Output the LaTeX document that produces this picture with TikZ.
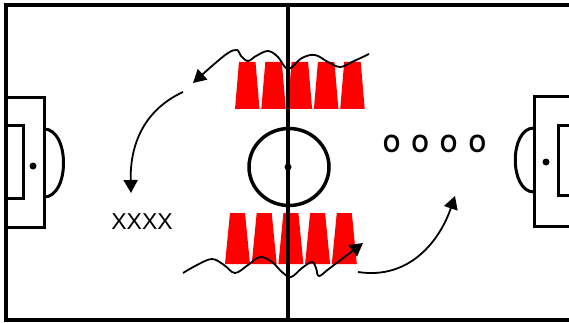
\documentclass[tikz,border=0pt]{standalone}
\usepackage{fontspec}
\setmainfont{Liberation Sans}
\usetikzlibrary{arrows.meta}
\tikzset{
  fieldline/.style={line width=4pt, line join=miter},
  boxline/.style={line width=3pt},
  cone/.style={fill=red, draw=none},
  run/.style={line width=1.8pt, -{Triangle[length=13pt,width=14pt]}},
  grouplabel/.style={font=\fontsize{23}{23}\selectfont, inner sep=0pt},
}
\begin{document}
\begin{tikzpicture}[x=1pt,y=-1pt]
\useasboundingbox (0,0) rectangle (569,323);
\clip (0,0) rectangle (569,323);
\fill[white] (0,0) rectangle (569,323);

% row of cones above the centre circle
\foreach \i in {0,...,4}{
  \pgfmathsetmacro{\xb}{235+26.3*\i}
  \fill[cone] (\xb,109) -- (\xb+24.5,109) -- (\xb+20.5,62) -- (\xb+4,62) -- cycle;
}
% row of cones below the centre circle
\foreach \i in {0,...,4}{
  \pgfmathsetmacro{\xb}{225+26.7*\i}
  \fill[cone] (\xb,264) -- (\xb+25,264) -- (\xb+20,213) -- (\xb+5,213) -- cycle;
}

% pitch outline and halfway line
\draw[fieldline] (6,5) rectangle (590,320);
\draw[fieldline] (288,5) -- (288,320);
% centre circle and spot
\draw[line width=3.5pt] (289,167) ellipse [x radius=40, y radius=38.5];
\fill (288,167) circle (3.5);

% left penalty area
\draw[boxline] (6,98) -- (44,98) -- (44,227) -- (6,227);
\draw[boxline] (6,126) -- (23,126) -- (23,198) -- (6,198);
\draw[boxline] (44,129) .. controls (70,129) and (70,197) .. (44,197);
\fill (33,166) circle (3.5);

% right penalty area
\draw[boxline] (590,97) -- (534,97) -- (534,226) -- (590,226);
\draw[boxline] (590,126) -- (558,126) -- (558,195) -- (590,195);
\draw[boxline] (534,128) .. controls (509,128) and (509,192) .. (534,192);
\fill (546,162) circle (3.5);

% player groups
\node[grouplabel] (xs) at (142,222) {XXXX};
\node[grouplabel, font=\fontsize{25}{25}\selectfont\bfseries] (os) at (434.5,144)
  {\scalebox{0.88}[1]{\spaceskip=13pt O O O O}};

% dribble through the upper cones
\draw[run] plot[smooth, tension=0.6] coordinates {
  (369,54) (352,62) (340,67) (328,62) (315,55) (302,58) (288,69) (278,57)
  (268,51) (256,56) (248,61) (241,56) (237,50) (228,53) (212,66) (193,83)};
% run back towards the X group
\coordinate (ls) at (183,92);
\coordinate (le) at (131,193);
\draw[run] (ls) .. controls (140,112) and (130,150) .. (le);

% dribble through the lower cones
\draw[run] plot[smooth, tension=0.6] coordinates {
  (183,273) (197,265) (212,259) (224,265) (235,273) (248,265) (260,257)
  (272,262) (282,272) (291,277) (302,268) (312,262) (316,268) (319,276)
  (330,268) (363,243)};
% run towards the O group
\coordinate (rs) at (358,272);
\coordinate (re) at (455,196);
\draw[run] (rs) .. controls (410,280) and (440,240) .. (re);
\end{tikzpicture}
\end{document}
